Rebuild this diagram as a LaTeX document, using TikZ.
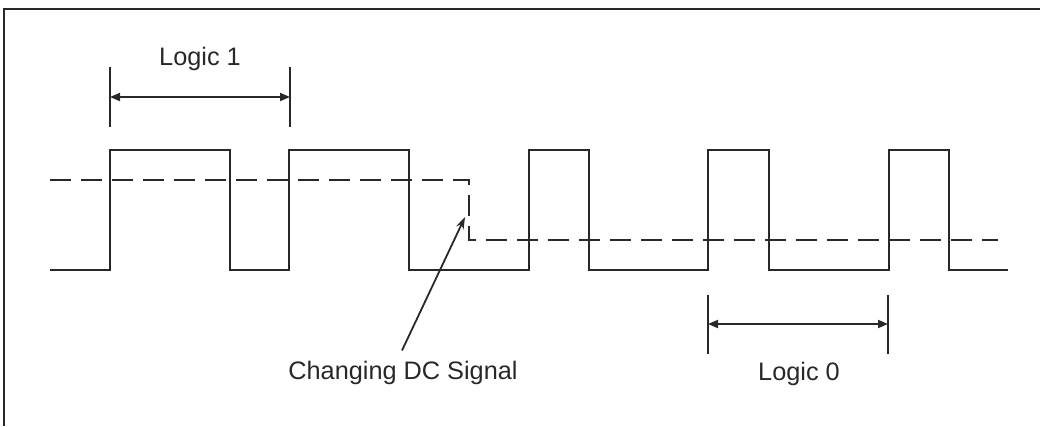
\documentclass[tikz,border=0pt]{standalone}
\usepackage{fontspec}
\setmainfont{Liberation Sans}
\usetikzlibrary{arrows.meta, positioning, calc}
\definecolor{inkgray}{RGB}{40,40,40}
\tikzset{
    signal/.style={line width=2.4pt, color=inkgray, line join=miter},
    dcline/.style={line width=2.4pt, color=inkgray, dash pattern=on 21pt off 10pt},
    dimline/.style={line width=1.8pt, color=inkgray, {Triangle[length=10pt,width=8pt]}-{Triangle[length=10pt,width=8pt]}},
    tickline/.style={line width=1.8pt, color=inkgray},
    lbl/.style={anchor=base, text=inkgray, font=\fontsize{25.3}{29}\selectfont, inner sep=2pt}
}

\begin{document}
\begin{tikzpicture}[x=1pt, y=-1pt]
    \useasboundingbox (0,0) rectangle (1040,426);
    % frame (top and left edge only)
    \draw[line width=2pt, color=inkgray] (1040,9) -- (4,9) -- (4,426);

    % square wave
    \draw[signal] (50,270) -- (110,270) -- (110,150) -- (230,150) -- (230,270)
        -- (289,270) -- (289,150) -- (409,150) -- (409,270)
        -- (529,270) -- (529,150) -- (589,150) -- (589,270)
        -- (708,270) -- (708,150) -- (769,150) -- (769,270)
        -- (889,270) -- (889,150) -- (949,150) -- (949,270) -- (1008,270);

    % changing dc level
    \coordinate (dchigh) at (50,180);
    \coordinate (dcstep) at (469,180);
    \coordinate (dcbot) at (469,240);
    \coordinate (dcend) at (998,240);
    \draw[dcline] (dchigh) -- (dcstep) -- (dcbot) -- (dcend);

    % logic 1 span
    \coordinate (oneleft) at (110,97);
    \coordinate (oneright) at (290,97);
    \draw[tickline] ([yshift=30pt]oneleft) -- ([yshift=-30pt]oneleft);
    \draw[tickline] ([yshift=30pt]oneright) -- ([yshift=-30pt]oneright);
    \draw[dimline] (oneleft) -- (oneright);
    \node[lbl] (logicone) at (200,65) {Logic 1};

    % logic 0 span
    \coordinate (zeroleft) at (708,324);
    \coordinate (zeroright) at (888,324);
    \draw[tickline] ([yshift=29pt]zeroleft) -- ([yshift=-30pt]zeroleft);
    \draw[tickline] ([yshift=29pt]zeroright) -- ([yshift=-30pt]zeroright);
    \draw[dimline] (zeroleft) -- (zeroright);
    \node[lbl] (logiczero) at (799,380) {Logic 0};

    % label for the dc shift
    \node[lbl] (dclabel) at (403,379) {Changing DC Signal};
    \coordinate (dctip) at (465,217);
    \draw[line width=1.8pt, color=inkgray, -{Stealth[length=12pt,width=8pt]}] ([xshift=-1pt,yshift=8pt]dclabel.north) -- (dctip);
\end{tikzpicture}
\end{document}
